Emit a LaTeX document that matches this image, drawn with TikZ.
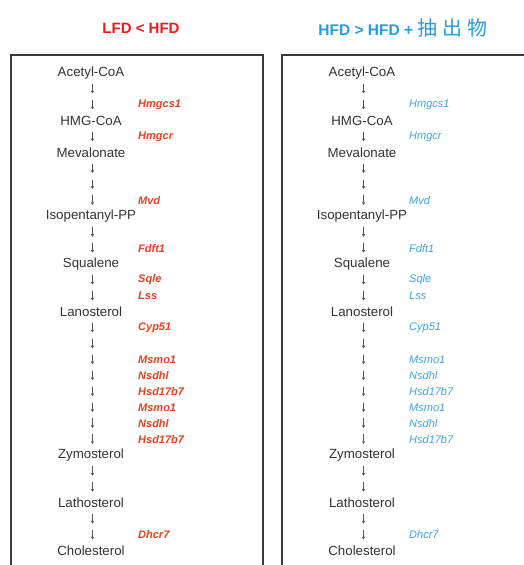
\documentclass[tikz,border=0pt]{standalone}
\usepackage{fontspec}
\setmainfont{Liberation Sans}
\newfontfamily\cjk{Noto Sans CJK SC}
\usetikzlibrary{arrows.meta}
\definecolor{titlered}{HTML}{F01A1A}
\definecolor{genered}{HTML}{E8401C}
\definecolor{titleblue}{HTML}{2B9BE0}
\definecolor{geneblue}{HTML}{3FA4E2}
\definecolor{metgray}{HTML}{333333}
\definecolor{arrgray}{HTML}{555555}
\definecolor{boxgray}{HTML}{3A3A3A}
\newcommand{\rowy}[1]{73+15.93*#1}
\newcommand{\pathcol}[5]{%
  % #1 prefix, #2 x offset, #3 gene colour, #4 gene font, #5 metabolite font
  \foreach \n/\t in {0/Acetyl-CoA,3/HMG-CoA,5/Mevalonate,9/Isopentanyl-PP,12/Squalene,15/Lanosterol,24/Zymosterol,27/Lathosterol,30/Cholesterol}{
    \node[met,font=#5] (#1m\n) at ({#2+91},{\rowy{\n}}) {\t};
  }
  \foreach \n in {1,2,4,6,7,8,10,11,13,14,16,17,18,19,20,21,22,23,25,26,28,29}{
    \coordinate (#1t\n) at ({#2+92.5},{\rowy{\n}-5});
    \coordinate (#1b\n) at ({#2+92.5},{\rowy{\n}+4.5});
    \draw[arr] (#1t\n) -- (#1b\n);
  }
  \foreach \n/\g in {2/Hmgcs1,4/Hmgcr,8/Mvd,11/Fdft1,13/Sqle,14/Lss,16/Cyp51,18/Msmo1,19/Nsdhl,20/Hsd17b7,21/Msmo1,22/Nsdhl,23/Hsd17b7,29/Dhcr7}{
    \node[gene,text=#3,font=#4] (#1g\n) at ({#2+138},{\rowy{\n}}) {\g};
  }
}
\begin{document}
\begin{tikzpicture}[x=1pt,y=-1pt,
  met/.style={inner sep=0pt,anchor=center,text=metgray},
  gene/.style={inner sep=0pt,anchor=west},
  arr/.style={draw=arrgray,line width=0.6pt,-{Triangle[length=2.6pt,width=3pt]}},
  panel/.style={draw=boxgray,line width=1.2pt},
  title/.style={inner sep=0pt,anchor=center}]
\useasboundingbox (0,0) rectangle (523,565);
\fill[white] (0,0) rectangle (523,565);
\node[title,text=titlered,font=\fontsize{15}{15}\selectfont\bfseries] (tl) at (141,28) {LFD < HFD};
\node[title,text=titleblue,font=\fontsize{15.5}{15.5}\selectfont\bfseries] (tr) at (403,28) {HFD > HFD + {\cjk\fontsize{20}{20}\selectfont\mdseries 抽\hspace{5pt}出\hspace{5pt}物}};
\draw[panel] (11,575) -- (11,55) -- (263,55) -- (263,575);
\draw[panel] (282,575) -- (282,55) -- (540,55);
\pathcol{L}{0}{genered}{\fontsize{11}{11}\selectfont\bfseries\itshape}{\fontsize{13.3}{13.3}\selectfont}
\pathcol{R}{271}{geneblue}{\fontsize{11}{11}\selectfont\itshape}{\fontsize{13.3}{13.3}\selectfont}
\end{tikzpicture}
\end{document}
